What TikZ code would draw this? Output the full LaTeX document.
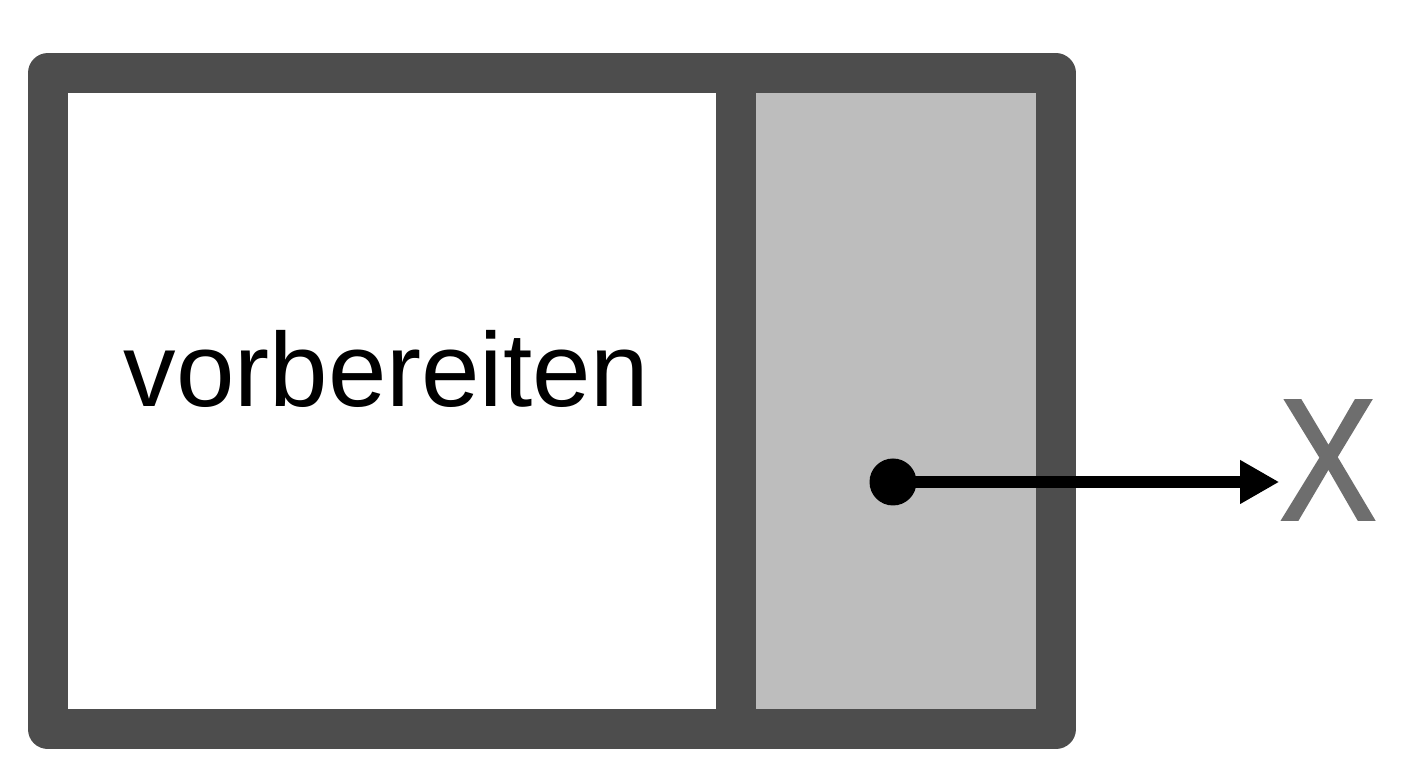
\documentclass[tikz,border=0pt]{standalone}
\usepackage{fontspec}
\setmainfont{Liberation Sans}
\newfontfamily\markfont[FakeBold=1.6]{Liberation Sans}
\usetikzlibrary{arrows.meta}
\definecolor{framegray}{HTML}{4D4D4D}
\definecolor{panelgray}{HTML}{BDBDBD}
\definecolor{markgray}{HTML}{6E6E6E}

\begin{document}
\begin{tikzpicture}
    \useasboundingbox[fill=white] (0,0) rectangle (28.16,15.36);

    % Right panel (grey)
    \fill[panelgray] (14.72,0.77) rectangle (21.11,13.9);

    % Frame and divider
    \draw[framegray, line width=0.8cm, line join=round] (0.96,0.77) rectangle (21.11,13.9);
    \draw[framegray, line width=0.8cm] (14.72,0.77) -- (14.72,13.9);

    % Label
    \node[font=\fontsize{59.8}{60}\selectfont, anchor=base] (label) at (7.73,7.22) {vorbereiten};

    % Output dot and arrow
    \node[circle, fill=black, inner sep=0pt, minimum size=0.94cm] (dot) at (17.86,5.72) {};
    \node[markgray, font=\markfont\fontsize{98.5}{99}\selectfont, inner sep=0pt, xscale=0.84] (out) at (26.56,6.16) {X};
    \draw[-{Triangle[length=0.78cm, width=0.82cm]}, line width=0.23cm] (dot.center) -- (dot.center -| out.west);
\end{tikzpicture}
\end{document}
